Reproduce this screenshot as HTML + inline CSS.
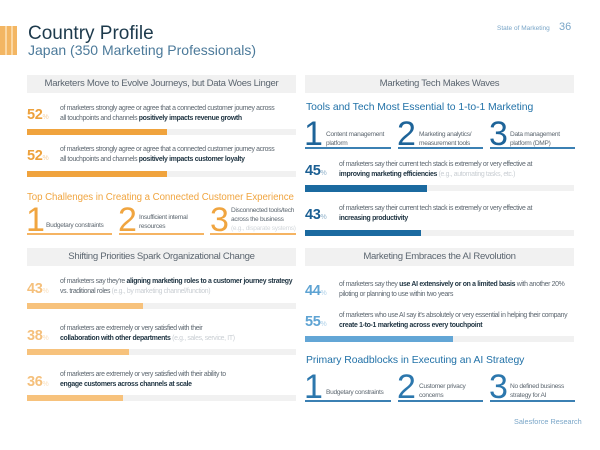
<!DOCTYPE html>
<html><head><meta charset="utf-8"><style>
*{margin:0;padding:0;box-sizing:border-box}
body{width:600px;height:450px;background:#fff;position:relative;overflow:hidden;font-family:"Liberation Sans",sans-serif;color:#4a5a66}
.a{position:absolute;white-space:nowrap}
.hdr{position:absolute;height:18px;background:#f1f1f1;font-size:9.6px;color:#5c6670;text-align:center;line-height:18px;letter-spacing:-0.3px}
.track{position:absolute;height:6px;background:#f1f1f1}
.fill{position:absolute;left:0;top:0;height:6px}
.pct{position:absolute;font-size:14.5px;font-weight:bold;letter-spacing:-0.3px}
.pct small{font-size:7px;font-weight:normal;opacity:.5}
.txt{position:absolute;font-size:6.9px;line-height:9.8px;color:#5d6770;letter-spacing:-0.35px;white-space:nowrap}
.txt b{color:#1f3442;letter-spacing:-0.3px}
.txt i{font-style:normal;color:#c9ced3}
.num{position:absolute;font-size:34px;line-height:30px;font-weight:normal}
.lbl{position:absolute;font-size:6.6px;line-height:9px;color:#5d6770;letter-spacing:-0.3px}
.ul{position:absolute;height:2px}
.ttl{position:absolute;font-size:10.4px;letter-spacing:-0.05px;white-space:nowrap}
</style></head><body>
<div class="a" style="left:0;top:26px;width:17px;height:29px;background:#f3b663"></div>
<div class="a" style="left:5px;top:26px;width:2px;height:29px;background:#fbd7a2"></div>
<div class="a" style="left:11px;top:26px;width:2px;height:29px;background:#fbd7a2"></div>
<div class="a" style="left:28px;top:23px;font-size:19px;color:#1d3a4c">Country Profile</div>
<div class="a" style="left:28px;top:42px;font-size:14px;color:#4c7a9a">Japan (350 Marketing Professionals)</div>
<div class="a" style="left:497px;top:25px;font-size:6.5px;color:#7aa6c8">State of Marketing</div>
<div class="a" style="left:559px;top:21px;font-size:11px;color:#7aa6c8">36</div>

<div class="hdr" style="left:27px;top:75px;width:269px">Marketers Move to Evolve Journeys, but Data Woes Linger</div>
<div class="pct" style="left:27px;top:107px;color:#eda13c">52<small>%</small></div>
<div class="txt" style="left:60px;top:104px">of marketers strongly agree or agree that a connected customer journey across<br>all touchpoints and channels <b>positively impacts revenue growth</b></div>
<div class="track" style="left:27px;top:129px;width:269px"><div class="fill" style="width:140px;background:#f0a33d"></div></div>
<div class="pct" style="left:27px;top:148px;color:#eda13c">52<small>%</small></div>
<div class="txt" style="left:60px;top:145px">of marketers strongly agree or agree that a connected customer journey across<br>all touchpoints and channels <b>positively impacts customer loyalty</b></div>
<div class="track" style="left:27px;top:171px;width:269px"><div class="fill" style="width:140px;background:#f0a33d"></div></div>
<div class="ttl" style="left:27px;top:192px;color:#f0a540;font-size:9.7px">Top Challenges in Creating a Connected Customer Experience</div>
<div class="num" style="left:26px;top:205px;color:#f0a540">1</div>
<div class="lbl" style="left:46px;top:221px">Budgetary constraints</div>
<div class="num" style="left:118px;top:205px;color:#f0a540">2</div>
<div class="lbl" style="left:139px;top:213px">Insufficient internal<br>resources</div>
<div class="num" style="left:210px;top:205px;color:#f0a540">3</div>
<div class="lbl" style="left:231px;top:206px">Disconnected tools/tech<br>across the business<br><span style="color:#d3d7db">(e.g., disparate systems)</span></div>
<div class="ul" style="left:27px;top:233px;width:85px;background:#f5b463"></div>
<div class="ul" style="left:119px;top:233px;width:85px;background:#f5b463"></div>
<div class="ul" style="left:210px;top:233px;width:86px;background:#f5b463"></div>

<div class="hdr" style="left:27px;top:248px;width:269px">Shifting Priorities Spark Organizational Change</div>
<div class="pct" style="left:27px;top:281px;color:#f5c07c">43<small>%</small></div>
<div class="txt" style="left:60px;top:277px">of marketers say they're <b>aligning marketing roles to a customer journey strategy</b><br>vs. traditional roles <i>(e.g., by marketing channel/function)</i></div>
<div class="track" style="left:27px;top:303px;width:269px"><div class="fill" style="width:116px;background:#f7c27c"></div></div>
<div class="pct" style="left:27px;top:328px;color:#f5c07c">38<small>%</small></div>
<div class="txt" style="left:60px;top:324px">of marketers are extremely or very satisfied with their<br><b>collaboration with other departments</b> <i>(e.g., sales, service, IT)</i></div>
<div class="track" style="left:27px;top:349px;width:269px"><div class="fill" style="width:102px;background:#f7c27c"></div></div>
<div class="pct" style="left:27px;top:374px;color:#f5c07c">36<small>%</small></div>
<div class="txt" style="left:60px;top:370px">of marketers are extremely or very satisfied with their ability to<br><b>engage customers across channels at scale</b></div>
<div class="track" style="left:27px;top:395px;width:269px"><div class="fill" style="width:96px;background:#f7c27c"></div></div>

<div class="hdr" style="left:305px;top:75px;width:269px">Marketing Tech Makes Waves</div>
<div class="ttl" style="left:306px;top:102px;color:#2272a8">Tools and Tech Most Essential to 1-to-1 Marketing</div>
<div class="num" style="left:304px;top:119px;color:#1e6499">1</div>
<div class="lbl" style="left:326px;top:130px">Content management<br>platform</div>
<div class="num" style="left:397px;top:119px;color:#1e6499">2</div>
<div class="lbl" style="left:419px;top:130px">Marketing analytics/<br>measurement tools</div>
<div class="num" style="left:489px;top:119px;color:#1e6499">3</div>
<div class="lbl" style="left:510px;top:130px">Data management<br>platform (DMP)</div>
<div class="ul" style="left:305px;top:147px;width:86px;background:#3b80b3"></div>
<div class="ul" style="left:398px;top:147px;width:85px;background:#3b80b3"></div>
<div class="ul" style="left:490px;top:147px;width:85px;background:#3b80b3"></div>
<div class="pct" style="left:305px;top:163px;color:#1b5f93">45<small>%</small></div>
<div class="txt" style="left:339px;top:160px">of marketers say their current tech stack is extremely or very effective at<br><b>improving marketing efficiencies</b> <i>(e.g., automating tasks, etc.)</i></div>
<div class="track" style="left:305px;top:185px;width:269px"><div class="fill" style="width:122px;height:7px;background:#1b6aa0"></div></div>
<div class="pct" style="left:305px;top:207px;color:#1b5f93">43<small>%</small></div>
<div class="txt" style="left:339px;top:204px">of marketers say their current tech stack is extremely or very effective at<br><b>increasing productivity</b></div>
<div class="track" style="left:305px;top:230px;width:269px"><div class="fill" style="width:116px;background:#1b6aa0"></div></div>

<div class="hdr" style="left:305px;top:248px;width:269px">Marketing Embraces the AI Revolution</div>
<div class="pct" style="left:305px;top:283px;color:#5ea3d3">44<small>%</small></div>
<div class="txt" style="left:339px;top:280px">of marketers say they <b>use AI extensively or on a limited basis</b> with another 20%<br>piloting or planning to use within two years</div>
<div class="pct" style="left:305px;top:314px;color:#5ea3d3">55<small>%</small></div>
<div class="txt" style="left:339px;top:311px">of marketers who use AI say it's absolutely or very essential in helping their company<br><b>create 1-to-1 marketing across every touchpoint</b></div>
<div class="track" style="left:305px;top:336px;width:269px"><div class="fill" style="width:148px;background:#63a6d6"></div></div>
<div class="ttl" style="left:306px;top:355px;color:#2272a8">Primary Roadblocks in Executing an AI Strategy</div>
<div class="num" style="left:304px;top:372px;color:#2c77ad">1</div>
<div class="lbl" style="left:326px;top:388px">Budgetary constraints</div>
<div class="num" style="left:397px;top:372px;color:#2c77ad">2</div>
<div class="lbl" style="left:419px;top:382px">Customer privacy<br>concerns</div>
<div class="num" style="left:489px;top:372px;color:#2c77ad">3</div>
<div class="lbl" style="left:510px;top:382px">No defined business<br>strategy for AI</div>
<div class="ul" style="left:305px;top:400px;width:86px;background:#3b80b3"></div>
<div class="ul" style="left:398px;top:400px;width:85px;background:#3b80b3"></div>
<div class="ul" style="left:490px;top:400px;width:85px;background:#3b80b3"></div>
<div class="a" style="left:514px;top:417px;font-size:7.3px;color:#7aa6c8">Salesforce Research</div>
</body></html>
